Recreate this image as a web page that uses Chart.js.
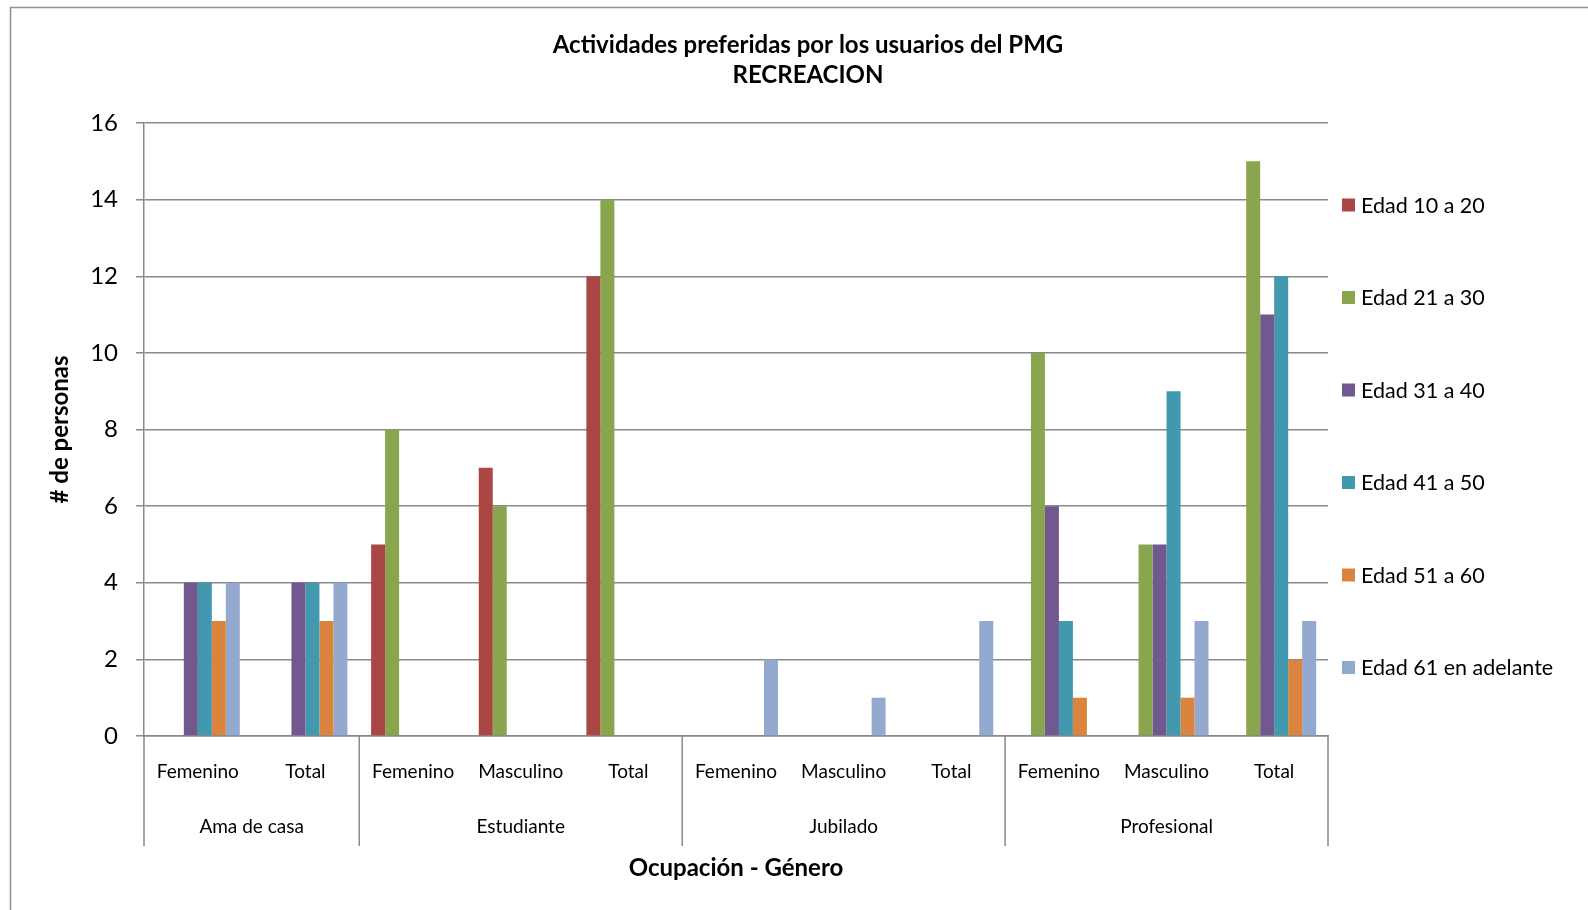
<!DOCTYPE html>
<html><head><meta charset="utf-8">
<script src="https://cdn.jsdelivr.net/npm/chart.js@4/dist/chart.umd.min.js"></script>
<style>html,body{margin:0;padding:0;background:#fff;overflow:hidden}</style>
</head><body><canvas id="c" width="1588" height="910"></canvas>
<script>
const subCategories = ['Femenino','Total','Femenino','Masculino','Total','Femenino','Masculino','Total','Femenino','Masculino','Total'];
const groupLabels = ['Ama de casa','Estudiante','Jubilado','Profesional'];
const groupSizes = [2,3,3,3];
const seriesNames = ['Edad 10 a 20','Edad 21 a 30','Edad 31 a 40','Edad 41 a 50','Edad 51 a 60','Edad 61 en adelante'];
const edad10a20 = [0,0,5,7,12,0,0,0,0,0,0];
const edad21a30 = [0,0,8,6,14,0,0,0,10,5,15];
const edad31a40 = [4,4,0,0,0,0,0,0,6,5,11];
const edad41a50 = [4,4,0,0,0,0,0,0,3,9,12];
const edad51a60 = [3,3,0,0,0,0,0,0,1,1,2];
const edad61mas = [4,4,0,0,0,2,1,3,0,3,3];
const seriesColors = ['#AA4643','#89A54E','#71588F','#4198AF','#DB843D','#93A9CF'];
const titleLines = ['Actividades preferidas por los usuarios del PMG','RECREACION'];
const xTitle = 'Ocupación - Género';
const yTitle = '# de personas';
const yMin = 0, yMax = 16, yStep = 2;

const FONT = 'Lato, "Open Sans", sans-serif';
const GRID = '#898989';
const seriesValues = [edad10a20, edad21a30, edad31a40, edad41a50, edad51a60, edad61mas];

const decor = {
  id: 'decor',
  afterDraw(chart) {
    const ctx = chart.ctx;
    const x = chart.scales.x;
    ctx.save();
    // outer border
    ctx.strokeStyle = '#8f8f8f'; ctx.lineWidth = 1.5;
    ctx.strokeRect(10.5, 7.5, 1600, 1000);
    // title
    ctx.fillStyle = '#000'; ctx.textAlign = 'center'; ctx.textBaseline = 'middle';
    ctx.font = 'bold 24px ' + FONT;
    ctx.fillText(titleLines[0], 808, 45);
    ctx.fillText(titleLines[1], 808, 75);
    // group separators and labels
    const area = chart.chartArea;
    ctx.strokeStyle = GRID; ctx.lineWidth = 1.5;
    let idx = 0;
    const bounds = [0];
    groupSizes.forEach(s => { idx += s; bounds.push(idx); });
    bounds.forEach(b => {
      const xx = b === 0 ? area.left : (b === subCategories.length ? area.right : (x.getPixelForValue(b - 1) + x.getPixelForValue(b)) / 2);
      ctx.beginPath(); ctx.moveTo(xx, area.bottom); ctx.lineTo(xx, 846); ctx.stroke();
    });
    ctx.font = '19px ' + FONT; ctx.fillStyle = '#000';
    for (let g = 0; g < groupLabels.length; g++) {
      const a = bounds[g], b = bounds[g + 1];
      const cx = (x.getPixelForValue(a) + x.getPixelForValue(b - 1)) / 2;
      ctx.fillText(groupLabels[g], cx, 827);
    }
    // legend
    ctx.textAlign = 'left'; ctx.font = '21.5px ' + FONT;
    chart.data.datasets.forEach((ds, i) => {
      const y = 205 + i * 92.5;
      ctx.fillStyle = ds.backgroundColor;
      ctx.fillRect(1342, y - 6.5, 13, 13);
      ctx.fillStyle = '#000';
      ctx.fillText(ds.label, 1361, y + 1);
    });
    ctx.restore();
  }
};

new Chart(document.getElementById('c'), {
  type: 'bar',
  data: {
    labels: subCategories,
    datasets: seriesNames.map((n, i) => ({
      label: n, data: seriesValues[i], backgroundColor: seriesColors[i],
      borderWidth: 0, categoryPercentage: 0.78, barPercentage: 1
    }))
  },
  options: {
    responsive: false, animation: false,
    layout: { padding: { left: 0, right: 260, top: 123, bottom: 0 } },
    plugins: { legend: { display: false }, title: { display: false }, tooltip: { enabled: false } },
    scales: {
      x: {
        grid: { display: false, drawTicks: false },
        border: { display: true, color: GRID, width: 1.5 },
        ticks: { color: '#000', font: { family: FONT, size: 19 }, padding: 24, maxRotation: 0, autoSkip: false },
        title: { display: true, text: xTitle, color: '#000', font: { family: FONT, size: 24, weight: 'bold' }, padding: { top: 0, bottom: 27 } },
        afterFit(s) { s.height = 174; }
      },
      y: {
        min: yMin, max: yMax,
        grid: { color: GRID, lineWidth: 1.5, tickLength: 8, drawTicks: true },
        border: { display: true, color: GRID, width: 1.5 },
        ticks: { stepSize: yStep, color: '#000', font: { family: FONT, size: 24 }, padding: 18 },
        title: { display: true, text: yTitle, color: '#000', font: { family: FONT, size: 24, weight: 'bold' }, padding: 46 },
        afterFit(s) { s.width = 144; }
      }
    }
  },
  plugins: [decor]
});
</script></body></html>
